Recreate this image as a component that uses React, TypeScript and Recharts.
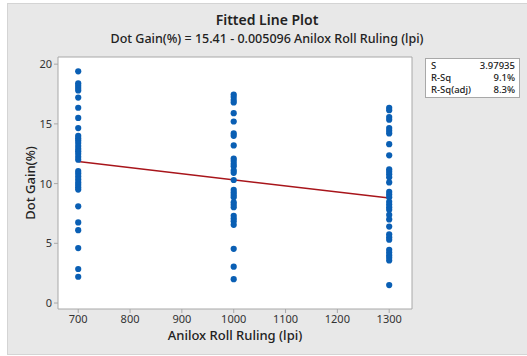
import React from "react";
import {
  ScatterChart,
  Scatter,
  XAxis,
  YAxis,
  ZAxis,
  ReferenceArea,
} from "recharts";

const rulings = [700, 1000, 1300];

const dotGain700 = [
  19.4, 18.4, 18.2, 18.0, 17.8, 17.2, 16.35, 15.5, 14.65, 14.0, 13.8, 13.6,
  13.4, 13.15, 12.9, 12.7, 12.5, 12.25, 12.0, 11.05, 10.85, 10.6, 10.35, 10.1,
  9.9, 9.7, 9.5, 8.1, 6.75, 6.1, 4.6, 2.85, 2.2,
];
const dotGain1000 = [
  17.45, 17.25, 17.0, 16.8, 15.9, 15.2, 14.2, 14.0, 13.2, 12.1, 11.9, 11.65,
  11.45, 11.1, 10.9, 10.3, 9.47, 9.25, 9.05, 8.86, 8.44, 8.22, 8.02, 7.3, 7.07,
  6.85, 6.55, 4.54, 3.04, 2.0,
];
const dotGain1300 = [
  16.35, 16.15, 15.57, 15.35, 14.65, 14.43, 14.2, 13.3, 12.37, 11.2, 11.0,
  10.78, 10.53, 10.1, 9.3, 9.08, 8.86, 8.47, 8.25, 8.02, 7.8, 7.38, 7.0, 6.4,
  5.74, 5.5, 5.3, 4.46, 4.23, 4.0, 3.8, 3.56, 1.5,
];

const intercept = 15.41;
const slope = -0.005096;

const xTicks = [700, 800, 900, 1000, 1100, 1200, 1300];
const yTicks = [0, 5, 10, 15, 20];

const statLabels = ["S", "R-Sq", "R-Sq(adj)"];
const statValues = ["3.97935", "9.1%", "8.3%"];

const columns = [dotGain700, dotGain1000, dotGain1300];
const points = columns.flatMap((col, i) =>
  col.map((v) => ({ x: rulings[i], y: v }))
);
const fitLine = [rulings[0], rulings[rulings.length - 1]].map((x) => ({
  x,
  y: intercept + slope * x,
}));

const FONT = "'Noto Sans', 'Open Sans', sans-serif";
const BLUE = "#0a5fb4";
const RED = "#a8151b";

const Dot = (props: any) => (
  <circle cx={props.cx} cy={props.cy} r={3.1} fill={BLUE} />
);

export default function App() {
  return (
    <div
      style={{
        position: "absolute",
        left: 0,
        top: 0,
        width: 527,
        height: 356,
        background: "#ffffff",
        fontFamily: FONT,
        overflow: "hidden",
      }}
    >
      <div
        style={{
          position: "absolute",
          left: 7,
          top: 3,
          width: 520,
          height: 352,
          background: "#e8e8e8",
          borderLeft: "1px solid #d4d4d4",
          borderTop: "1px solid #d4d4d4",
          borderBottom: "1px solid #d4d4d4",
          boxSizing: "border-box",
        }}
      />
      <div
        style={{
          position: "absolute",
          left: 7,
          width: 520,
          top: 11,
          textAlign: "center",
          fontSize: 14,
          fontWeight: 600,
          color: "#222",
          lineHeight: "18px",
        }}
      >
        Fitted Line Plot
      </div>
      <div
        style={{
          position: "absolute",
          left: 7,
          width: 520,
          top: 30,
          textAlign: "center",
          fontSize: 12.5,
          fontWeight: 500,
          color: "#222",
          lineHeight: "17px",
        }}
      >
        Dot Gain(%) = 15.41 - 0.005096 Anilox Roll Ruling (lpi)
      </div>
      <div style={{ position: "absolute", left: 0, top: 0 }}>
        <ScatterChart
          width={527}
          height={356}
          margin={{ top: 57, right: 115, bottom: 0, left: 0 }}
        >
          <ReferenceArea
            x1={661}
            x2={1344}
            y1={-0.5}
            y2={20.6}
            fill="#ffffff"
            fillOpacity={1}
            stroke="#a8a8a8"
            strokeWidth={1}
            ifOverflow="visible"
          />
          <XAxis
            type="number"
            dataKey="x"
            domain={[661, 1344]}
            ticks={xTicks}
            allowDataOverflow
            height={47}
            axisLine={false}
            tickLine={{ stroke: "#a8a8a8" }}
            tickSize={4}
            tick={{ fill: "#333", fontSize: 11, fontFamily: FONT }}
            label={{
              value: "Anilox Roll Ruling (lpi)",
              position: "insideBottom",
              offset: 16,
              style: { fill: "#222", fontSize: 13, fontFamily: FONT, fontWeight: 500 },
            }}
          />
          <YAxis
            type="number"
            dataKey="y"
            domain={[-0.5, 20.6]}
            ticks={yTicks}
            allowDataOverflow
            width={58}
            axisLine={false}
            tickLine={{ stroke: "#a8a8a8" }}
            tickSize={4}
            tick={{ fill: "#333", fontSize: 11, fontFamily: FONT }}
            label={{
              value: "Dot Gain(%)",
              angle: -90,
              position: "insideLeft",
              offset: 30,
              style: {
                fill: "#222",
                fontSize: 13,
                fontFamily: FONT,
                fontWeight: 500,
                textAnchor: "middle",
              },
            }}
          />
          <ZAxis range={[30, 30]} />
          <Scatter
            data={fitLine}
            line={{ stroke: RED, strokeWidth: 1.5 }}
            shape={() => <g />}
            isAnimationActive={false}
          />
          <Scatter
            data={points}
            shape={Dot}
            isAnimationActive={false}
          />
        </ScatterChart>
      </div>
      <div
        style={{
          position: "absolute",
          left: 425,
          top: 58,
          width: 95,
          height: 40,
          background: "#fff",
          border: "1px solid #a8a8a8",
          boxSizing: "border-box",
          padding: "1px 4px 0 5px",
          fontSize: 9.5,
          fontWeight: 500,
          color: "#222",
          lineHeight: "12px",
        }}
      >
        {statLabels.map((l, i) => (
          <div
            key={l}
            style={{
              display: "flex",
              justifyContent: "space-between",
              height: 12,
              lineHeight: "12px",
            }}
          >
            <span>{l}</span>
            <span>{statValues[i]}</span>
          </div>
        ))}
      </div>
    </div>
  );
}
